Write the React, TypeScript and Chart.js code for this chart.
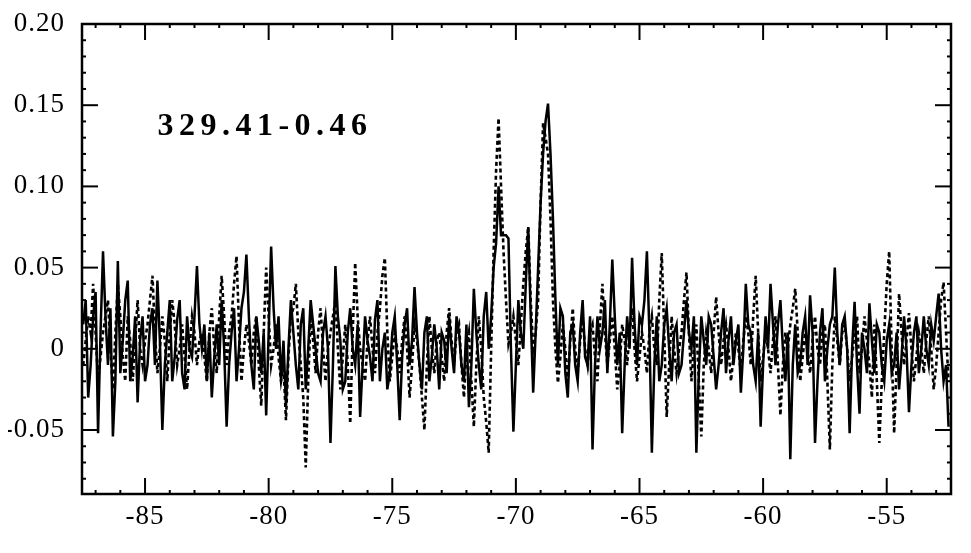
import { useEffect, useRef } from "react";
import { Chart, registerables } from "chart.js";

Chart.register(...registerables);

// Spectrum channel grid (km/s)
const V_START = -87.5;
const V_STEP = 0.1;

// Solid spectrum (Jy)
const solidFlux = [
  0.015, 0.03, -0.03, -0.01, 0.02, 0.035, -0.052, 0.01, 0.06, 0.02, -0.01, 0.025, -0.054, -0.02, 0.054, -0.015, 0.005, 0.03, 0.042, -0.02,
  -0.005, 0.02, -0.033, 0.005, 0.02, -0.02, -0.01, 0.015, 0.025, -0.01, 0.042, 0.005, -0.05, -0.01, 0.01, 0.03, -0.02, -0.005, 0.018, 0.03,
  -0.015, -0.025, 0.02, 0.0, -0.005, 0.02, 0.051, 0.015, 0.0, 0.015, -0.02, 0.01, -0.03, -0.005, 0.015, -0.01, 0.03, 0.0, -0.048, -0.01,
  0.01, 0.025, -0.02, 0.0, 0.025, 0.035, 0.058, 0.02, -0.01, -0.025, 0.02, 0.005, -0.015, 0.01, -0.041, 0.01, 0.063, 0.025, 0.0, 0.02,
  -0.02, 0.005, -0.035, 0.0, 0.03, 0.01, -0.01, -0.025, 0.015, 0.025, -0.025, 0.0, 0.03, 0.015, 0.0, -0.015, -0.02, 0.01, 0.02, 0.0,
  -0.058, -0.01, 0.051, 0.02, 0.005, -0.025, -0.02, 0.01, 0.025, 0.0, -0.01, 0.015, -0.042, -0.01, 0.02, 0.005, -0.005, -0.02, 0.018, 0.03,
  -0.02, 0.0, 0.01, -0.025, -0.015, 0.01, 0.02, -0.01, -0.044, -0.005, 0.015, 0.025, -0.01, 0.005, 0.038, 0.01, -0.01, -0.025, 0.01, 0.02,
  -0.02, -0.005, 0.015, 0.0, -0.025, 0.01, 0.005, -0.015, 0.02, 0.0, -0.015, 0.02, 0.01, -0.01, -0.02, 0.015, -0.036, -0.01, 0.037, 0.01,
  -0.01, -0.025, 0.02, 0.035, 0.0, 0.02, 0.05, 0.065, 0.1, 0.07, 0.07, 0.07, 0.068, 0.0, -0.051, -0.01, 0.03, 0.01, 0.0, 0.04,
  0.075, 0.02, -0.027, 0.01, 0.05, 0.09, 0.12, 0.14, 0.151, 0.12, 0.08, 0.03, -0.01, 0.025, 0.02, -0.015, -0.03, 0.01, 0.015, -0.01,
  -0.02, 0.01, 0.03, -0.005, -0.01, 0.02, -0.062, -0.01, 0.02, 0.0, 0.01, 0.03, -0.015, 0.015, 0.055, 0.02, -0.01, 0.01, -0.052, -0.01,
  0.02, 0.0, 0.056, 0.015, -0.01, 0.02, 0.015, 0.03, 0.06, 0.01, -0.064, -0.01, 0.02, -0.02, -0.01, 0.015, 0.025, 0.0, -0.02, 0.01,
  0.015, -0.015, -0.01, 0.01, 0.03, 0.01, 0.0, 0.02, -0.064, -0.015, 0.02, 0.005, -0.01, 0.02, 0.015, -0.005, -0.025, -0.01, 0.01, 0.025,
  -0.015, 0.005, 0.02, -0.01, 0.005, 0.015, -0.027, 0.0, 0.04, 0.015, 0.01, -0.01, -0.02, 0.01, -0.048, -0.01, 0.02, 0.0, 0.04, 0.015,
  -0.01, 0.015, 0.03, 0.0, -0.02, 0.01, -0.068, -0.01, 0.015, -0.015, -0.01, 0.01, 0.02, -0.01, 0.033, 0.01, -0.058, -0.02, 0.01, 0.025,
  -0.02, 0.0, 0.015, 0.02, 0.05, 0.01, -0.01, 0.015, 0.02, 0.0, -0.052, 0.0, 0.029, -0.01, -0.04, 0.01, 0.0, -0.015, 0.028, 0.005,
  -0.015, 0.015, 0.01, -0.01, -0.02, 0.005, 0.015, -0.015, -0.01, 0.01, -0.025, -0.005, 0.02, 0.0, -0.039, -0.01, 0.01, 0.02, -0.015, 0.0,
  0.02, 0.0, -0.01, 0.015, 0.005, 0.02, 0.034, 0.0, -0.02, -0.01, -0.048,
];

// Dotted spectrum (Jy)
const dottedFlux = [
  -0.01, 0.005, 0.02, 0.01, 0.04, 0.01, -0.02, -0.005, 0.01, 0.02, 0.03, 0.0, -0.025, 0.01, 0.04, 0.02, -0.005, -0.02, 0.02, 0.005,
  -0.02, 0.005, 0.03, 0.0, -0.01, 0.005, 0.015, 0.03, 0.045, 0.01, -0.015, 0.0, 0.02, 0.005, -0.02, 0.01, 0.03, 0.015, -0.01, 0.0,
  0.015, -0.005, -0.025, 0.0, 0.02, 0.01, -0.01, 0.005, 0.01, -0.005, -0.02, 0.01, 0.025, 0.0, -0.015, 0.02, 0.045, 0.02, -0.01, 0.01,
  0.02, 0.04, 0.057, 0.015, -0.02, 0.0, 0.015, 0.005, -0.01, 0.01, 0.02, -0.01, -0.035, 0.01, 0.05, 0.02, -0.01, 0.0, 0.015, -0.005,
  -0.02, -0.01, -0.044, -0.005, 0.02, 0.025, 0.04, 0.01, -0.01, -0.03, -0.073, -0.02, 0.02, 0.005, -0.015, 0.01, 0.025, 0.0, -0.02, 0.0,
  0.01, 0.02, 0.03, 0.0, -0.025, -0.005, 0.015, -0.01, -0.046, 0.01, 0.053, 0.02, 0.0, -0.01, -0.02, 0.005, 0.02, 0.0, -0.015, 0.01,
  0.025, 0.045, 0.056, 0.01, -0.02, -0.005, 0.01, 0.0, -0.015, 0.005, 0.02, 0.0, -0.03, -0.01, 0.015, 0.005, -0.01, -0.03, -0.05, -0.01,
  0.02, 0.0, -0.015, 0.005, 0.01, -0.005, -0.02, 0.01, 0.025, 0.005, -0.01, 0.01, 0.015, -0.01, -0.03, 0.0, 0.01, -0.02, -0.048, -0.01,
  0.02, 0.0, -0.03, -0.045, -0.064, 0.0, 0.06, 0.11, 0.142, 0.1, 0.06, 0.03, 0.003, 0.01, 0.02, 0.005, -0.01, 0.015, 0.04, 0.06,
  0.075, 0.03, 0.0, 0.01, 0.03, 0.09, 0.139, 0.13, 0.12, 0.08, 0.03, 0.0, -0.021, -0.005, 0.015, 0.0, -0.02, 0.005, 0.025, 0.0,
  -0.015, 0.005, 0.02, 0.0, -0.01, 0.01, 0.015, -0.005, -0.02, 0.015, 0.04, 0.01, -0.01, 0.005, 0.02, 0.0, -0.025, -0.01, 0.015, 0.005,
  -0.01, 0.01, 0.025, 0.0, -0.02, -0.005, 0.01, 0.0, -0.015, 0.01, 0.02, 0.0, -0.01, 0.03, 0.059, 0.01, -0.042, -0.01, 0.02, 0.0,
  -0.015, 0.0, 0.01, 0.03, 0.047, 0.01, -0.02, 0.0, 0.015, -0.02, -0.054, -0.01, 0.01, 0.0, -0.015, 0.01, 0.032, 0.01, -0.01, 0.005,
  0.015, 0.0, -0.02, -0.005, 0.01, 0.0, -0.015, 0.005, 0.02, 0.01, -0.01, 0.02, 0.045, 0.01, -0.02, -0.005, 0.01, 0.0, -0.015, 0.005,
  0.02, -0.01, -0.041, -0.01, 0.01, 0.0, 0.015, 0.025, 0.037, 0.01, -0.02, -0.005, 0.01, 0.0, -0.015, 0.005, 0.02, 0.0, -0.01, 0.01,
  0.015, -0.02, -0.062, -0.01, 0.02, 0.005, -0.01, 0.01, 0.015, 0.0, -0.02, -0.005, 0.01, 0.02, -0.015, 0.0, 0.02, 0.005, -0.01, -0.03,
  0.015, -0.02, -0.058, -0.02, 0.01, 0.04, 0.06, 0.0, -0.052, -0.01, 0.034, 0.01, -0.01, 0.005, 0.022, 0.0, -0.02, -0.005, 0.01, 0.0,
  -0.015, 0.005, 0.02, 0.0, -0.025, -0.01, 0.01, 0.03, 0.041, 0.01, -0.02,
];

const velocities = solidFlux.map((_, i) => +(V_START + i * V_STEP).toFixed(2));

const X_MIN = -87.55;
const X_MAX = -52.4;
const Y_MIN = -0.0894;
const Y_MAX = 0.2;
const TITLE = "329.41-0.46";

const FONT = "'Liberation Serif', 'DejaVu Serif', serif";

const framePlugin = {
  id: "frame",
  beforeDraw(chart: any) {
    (chart.ctx as any).letterSpacing = "1px";
  },
  afterDatasetsDraw(chart: any) {
    const ctx = chart.ctx as CanvasRenderingContext2D;
    const a = chart.chartArea;
    const xs = chart.scales.x;
    const ys = chart.scales.y;
    ctx.save();
    ctx.strokeStyle = "#000";
    ctx.lineCap = "butt";
    const seg = (x1: number, y1: number, x2: number, y2: number) => {
      ctx.beginPath();
      ctx.moveTo(x1, y1);
      ctx.lineTo(x2, y2);
      ctx.stroke();
    };
    ctx.lineWidth = 2;
    for (let v = Math.ceil(X_MIN); v <= X_MAX; v++) {
      const px = xs.getPixelForValue(v);
      const len = v % 5 === 0 ? 16 : 4;
      seg(px, a.bottom, px, a.bottom - len);
      seg(px, a.top, px, a.top + len);
    }
    for (let k = Math.ceil(Y_MIN * 100); k <= Math.round(Y_MAX * 100); k++) {
      const py = ys.getPixelForValue(k / 100);
      const len = k % 5 === 0 ? 16 : 4;
      seg(a.left, py, a.left + len, py);
      seg(a.right, py, a.right - len, py);
    }
    ctx.lineWidth = 2.5;
    ctx.strokeRect(a.left, a.top, a.right - a.left, a.bottom - a.top);

    ctx.fillStyle = "#000";
    ctx.font = `bold 32px ${FONT}`;
    (ctx as any).letterSpacing = "5.5px";
    ctx.textAlign = "left";
    ctx.textBaseline = "alphabetic";
    ctx.fillText(TITLE, xs.getPixelForValue(-84.5), ys.getPixelForValue(0.1316));
    ctx.restore();
  },
  afterDraw(chart: any) {
    (chart.ctx as any).letterSpacing = "0px";
  },
};

export default function App() {
  const ref = useRef<HTMLCanvasElement | null>(null);

  useEffect(() => {
    if (!ref.current) return;
    const chart = new Chart(ref.current, {
      type: "line",
      data: {
        datasets: [
          {
            label: "solid",
            data: velocities.map((v, i) => ({ x: v, y: solidFlux[i] })),
            borderColor: "#000",
            borderWidth: 2.5,
            pointRadius: 0,
            tension: 0,
            fill: false,
          },
          {
            label: "dotted",
            data: velocities.map((v, i) => ({ x: v, y: dottedFlux[i] })),
            borderColor: "#000",
            borderWidth: 2.6,
            borderDash: [4, 3],
            pointRadius: 0,
            tension: 0,
            fill: false,
          },
        ],
      },
      options: {
        animation: false,
        responsive: true,
        maintainAspectRatio: false,
        layout: { padding: { left: 8, top: 24, right: 20, bottom: 0 } },
        plugins: {
          legend: { display: false },
          tooltip: { enabled: false },
          title: { display: false },
        },
        scales: {
          x: {
            type: "linear",
            min: X_MIN,
            max: X_MAX,
            grid: { display: false, drawTicks: false },
            border: { display: false },
            afterFit: (s: any) => {
              s.height = 59;
              s.paddingLeft = 0;
              s.paddingRight = 0;
            },
            ticks: {
              stepSize: 5,
              includeBounds: false,
              padding: 7,
              color: "#000",
              font: { family: FONT, size: 27 },
              callback: (v: any) => String(v),
            },
          },
          y: {
            type: "linear",
            min: Y_MIN,
            max: Y_MAX,
            grid: { display: false, drawTicks: false },
            border: { display: false },
            afterFit: (s: any) => {
              s.width = 74;
              s.paddingTop = 0;
              s.paddingBottom = 0;
            },
            ticks: {
              stepSize: 0.05,
              includeBounds: false,
              padding: 17,
              color: "#000",
              font: { family: FONT, size: 27 },
              callback: (v: any) => {
                const n = Number(v);
                return Math.abs(n) < 1e-9 ? "0" : n.toFixed(2);
              },
            },
          },
        },
      },
      plugins: [framePlugin],
    });
    return () => chart.destroy();
  }, []);

  return (
    <div style={{ position: "fixed", left: 0, top: 0, width: 971, height: 553, background: "#fff" }}>
      <canvas ref={ref} />
    </div>
  );
}
